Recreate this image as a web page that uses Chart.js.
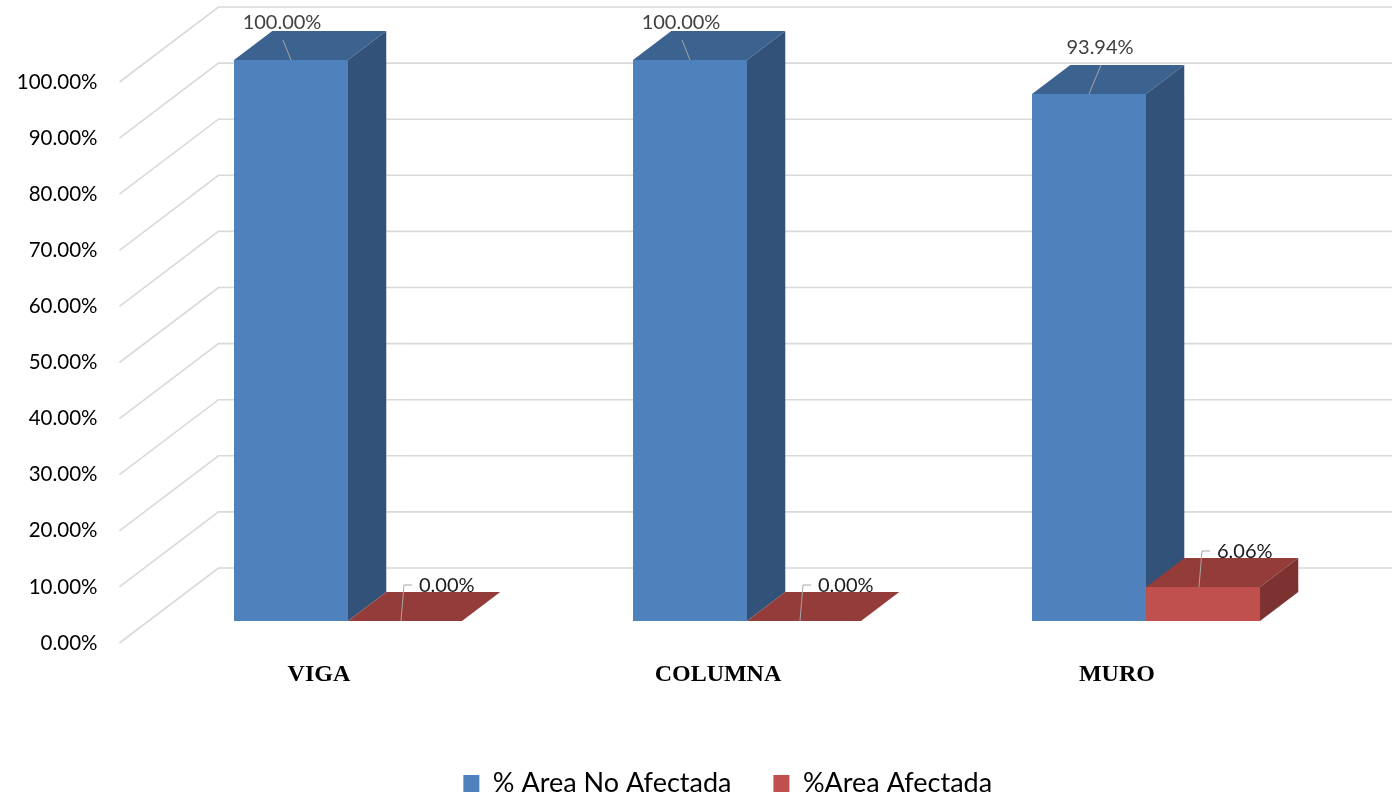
<!DOCTYPE html>
<html>
<head>
<meta charset="utf-8">
<script src="https://cdn.jsdelivr.net/npm/chart.js@4.4.1/dist/chart.umd.min.js"></script>
<style>
  html, body { margin: 0; padding: 0; background: #fff; }
  #wrap { width: 1392px; height: 798px; position: relative; }
</style>
</head>
<body>
<div id="wrap"><canvas id="chart"></canvas></div>
<script>
const categorias = ["VIGA", "COLUMNA", "MURO"];
const areaNoAfectada = [100.00, 100.00, 93.94];
const areaAfectada = [0.00, 0.00, 6.06];
const nombresSeries = ["% Area No Afectada", "%Area Afectada"];
const ejeMin = 0;
const ejeMax = 100;
const ejePaso = 10;

// colores por serie: cara frontal, tapa y lateral
const colores = [
    { frente: "#4F81BD", tapa: "#3C628F", lado: "#32527A" },
    { frente: "#C0504D", tapa: "#943C3A", lado: "#7B3230" }
];

// perspectiva: cuantos px se corre en x por cada px que sube en profundidad
const INCLINACION = 1.32;
const FONDO_BARRA = 29;   // profundidad de la barra
const PLANO_FRENTE = -22; // donde van las etiquetas de los ejes
const PARED_FONDO = 53;   // pared del fondo
const CORRER_LEYENDA = 55;

const fmt = v => v.toFixed(2) + "%";

// paredes en perspectiva: lineas del piso/lateral y horizontales del fondo
const paredes = {
    id: "paredes",
    afterLayout(chart) {
        // la leyenda va algo a la derecha del centro
        chart.legend.left += CORRER_LEYENDA;
        chart.legend.right += CORRER_LEYENDA;
    },
    beforeDatasetsDraw(chart) {
        const ctx = chart.ctx;
        const y = chart.scales.y;
        const area = chart.chartArea;
        ctx.save();
        ctx.strokeStyle = "#D9D9D9";
        ctx.lineWidth = 1.6;
        for (let v = ejeMin; v <= ejeMax; v += ejePaso) {
            const py = y.getPixelForValue(v);
            ctx.beginPath();
            ctx.moveTo(area.left + PLANO_FRENTE * INCLINACION, py - PLANO_FRENTE);
            ctx.lineTo(area.left + PARED_FONDO * INCLINACION, py - PARED_FONDO);
            ctx.lineTo(chart.width, py - PARED_FONDO);
            ctx.stroke();
        }
        ctx.restore();
    }
};

// barras 3D: se redibujan por categoria para que se tapen en orden
const barras3d = {
    id: "barras3d",
    afterDatasetsDraw(chart) {
        const ctx = chart.ctx;
        const dx = FONDO_BARRA * INCLINACION, dy = FONDO_BARRA;
        ctx.save();
        for (let i = 0; i < categorias.length; i++) {
            chart.data.datasets.forEach((ds, d) => {
                const bar = chart.getDatasetMeta(d).data[i];
                const c = colores[d];
                const izq = bar.x - bar.width / 2, der = bar.x + bar.width / 2;
                const top = bar.y, base = bar.base;
                // frente
                ctx.fillStyle = c.frente;
                ctx.fillRect(izq, top, bar.width, base - top);
                // tapa
                ctx.fillStyle = c.tapa;
                ctx.beginPath();
                ctx.moveTo(izq, top);
                ctx.lineTo(izq + dx, top - dy);
                ctx.lineTo(der + dx, top - dy);
                ctx.lineTo(der, top);
                ctx.closePath();
                ctx.fill();
                // lateral
                if (base - top > 0.5) {
                    ctx.fillStyle = c.lado;
                    ctx.beginPath();
                    ctx.moveTo(der, top);
                    ctx.lineTo(der + dx, top - dy);
                    ctx.lineTo(der + dx, base - dy);
                    ctx.lineTo(der, base);
                    ctx.closePath();
                    ctx.fill();
                }
            });
        }

        // etiquetas con linea guia
        ctx.lineWidth = 1;
        ctx.strokeStyle = "#A6A6A6";
        ctx.font = "20px Lato";
        ctx.textBaseline = "middle";
        chart.data.datasets.forEach((ds, d) => {
            chart.getDatasetMeta(d).data.forEach((bar, i) => {
                const xc = bar.x, top = bar.y;
                const txt = fmt(ds.data[i]);
                if (d === 0) {
                    let ty = top - 46;
                    const limitada = ty < 23;
                    if (limitada) ty = 23;
                    const lx = xc + (limitada ? -8 : 12);
                    ctx.beginPath();
                    ctx.moveTo(xc, top);
                    ctx.lineTo(lx, ty + 17);
                    ctx.stroke();
                    ctx.fillStyle = "#404040";
                    ctx.textAlign = "center";
                    ctx.fillText(txt, lx - 1, ty);
                } else {
                    const ly = top - 36;
                    ctx.beginPath();
                    ctx.moveTo(xc - 4, top);
                    ctx.lineTo(xc - 1, ly);
                    ctx.lineTo(xc + 7, ly);
                    ctx.stroke();
                    ctx.fillStyle = "#1A1A1A";
                    ctx.textAlign = "left";
                    ctx.fillText(txt, xc + 14, ly + 1);
                }
            });
        });
        ctx.restore();
    }
};

new Chart(document.getElementById("chart"), {
    type: "bar",
    data: {
        labels: categorias,
        datasets: [
            { label: nombresSeries[0], data: areaNoAfectada, backgroundColor: colores[0].frente },
            { label: nombresSeries[1], data: areaAfectada, backgroundColor: colores[1].frente }
        ]
    },
    options: {
        responsive: true,
        maintainAspectRatio: false,
        animation: false,
        categoryPercentage: 0.5714,
        barPercentage: 1,
        layout: { padding: { top: 60, right: 46.5, bottom: -9, left: 0 } },
        scales: {
            y: {
                min: ejeMin,
                max: ejeMax,
                grid: { display: false, drawTicks: false },
                border: { display: false },
                ticks: {
                    stepSize: ejePaso,
                    autoSkip: false,
                    padding: 51,
                    labelOffset: -PLANO_FRENTE,
                    color: "#000",
                    font: { family: "Lato", size: 20.5 },
                    callback: v => fmt(v)
                },
                afterFit: s => {
                    s.width = 148.5;
                    s.paddingTop = 0;
                    s.paddingBottom = 0;
                }
            },
            x: {
                grid: { display: false, drawTicks: false },
                border: { display: false },
                ticks: {
                    padding: 39,
                    labelOffset: PLANO_FRENTE * INCLINACION,
                    color: "#000",
                    font: { family: "Liberation Serif", size: 24, weight: "bold" }
                },
                afterFit: s => { s.height = 107; }
            }
        },
        plugins: {
            legend: {
                position: "bottom",
                labels: {
                    boxWidth: 16,
                    boxHeight: 17,
                    padding: 42,
                    color: "#000",
                    font: { family: "Lato", size: 27 },
                    sort: (a, b) => a.datasetIndex - b.datasetIndex
                }
            },
            tooltip: { enabled: false }
        }
    },
    plugins: [paredes, barras3d]
});
</script>
</body>
</html>
